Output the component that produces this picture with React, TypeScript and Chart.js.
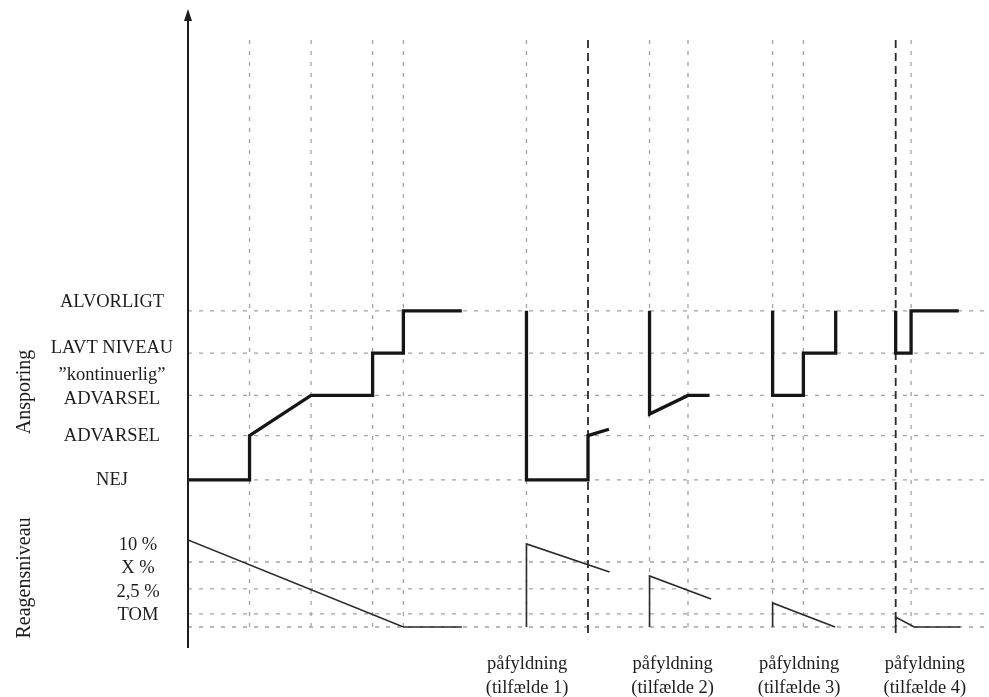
import React, { useEffect, useRef } from 'react';
import { Chart, registerables } from 'chart.js';

Chart.register(...registerables);

// ---- Data (x in time units, ansporing in level units, reagent in reagent units) ----
const ansporingGrid = [0, 1.05, 2, 3, 4];
const ansporingLabels = [['NEJ'], ['ADVARSEL'], ['”kontinuerlig”', 'ADVARSEL'], ['LAVT NIVEAU'], ['ALVORLIGT']];
const ansporingLabelPos = [0, 1.04, 2.2, 3.12, 4.21];

const reagentGrid = [0, 1.5, 4.37, 7.47];
const reagentLabels = ['TOM', '2,5 %', 'X %', '10 %'];
const reagentLabelPos = [1.38, 4.02, 6.78, 9.43];

const markerTimes = [2, 4, 6, 7, 11, 13, 15, 16.25, 19, 20, 23, 23.5];
const dashedMarkerTimes = [13, 23];

const refillLabelX = [11.02, 15.75, 19.86, 23.95];
const refillLabels = ['(tilfælde 1)', '(tilfælde 2)', '(tilfælde 3)', '(tilfælde 4)'];

const ansporingMain: [number, number][] = [[0, 0], [2, 0], [2, 1.05], [4, 2], [6, 2], [6, 3], [7, 3], [7, 4], [8.9, 4]];
const ansporingCase1: [number, number][] = [[11, 4], [11, 0], [13, 0], [13, 1.05], [13.68, 1.2]];
const ansporingCase2: [number, number][] = [[15, 4], [15, 1.56], [16.25, 2], [16.95, 2]];
const ansporingCase3: [number, number][] = [[19, 4], [19, 2], [20, 2], [20, 3], [21.05, 3], [21.05, 4]];
const ansporingCase4: [number, number][] = [[23, 4], [23, 3], [23.5, 3], [23.5, 4], [25.05, 4]];

const reagentMain: [number, number][] = [[0, 10], [7, 0], [8.9, 0]];
const reagentCase1: [number, number][] = [[11, 0], [11, 9.54], [13.7, 6.32]];
const reagentCase2: [number, number][] = [[15, 0], [15, 5.86], [17, 3.22]];
const reagentCase3: [number, number][] = [[19, 0], [19, 2.76], [21.03, 0]];
const reagentCase4: [number, number][] = [[23, 0], [23, 1.15], [23.6, 0], [25.1, 0]];

// ---- Scales / extents ----
const X_MIN = 0;
const X_MAX = 26;
const YA_MIN = -4;
const YA_MAX = 11;
const YR_MIN = -2.53;
const YR_MAX = 70.34;
const V_TOP = 10.41;
const V_BOTTOM = -3.62;

const GRID = '#a3a3a3';
const INK = '#1c1c1c';
const FONT = '"Liberation Serif", "DejaVu Serif", serif';

const decor = {
  id: 'decor',
  afterDatasetsDraw(chart: any) {
    const { ctx, chartArea, scales } = chart;
    const x = scales.x, yA = scales.yA, yR = scales.yR;
    ctx.save();
    // axis line with arrow
    ctx.strokeStyle = INK;
    ctx.lineWidth = 2;
    ctx.beginPath();
    ctx.moveTo(chartArea.left, chartArea.bottom - 1);
    ctx.lineTo(chartArea.left, chartArea.top + 4);
    ctx.stroke();
    ctx.fillStyle = INK;
    ctx.beginPath();
    ctx.moveTo(chartArea.left, chartArea.top - 6);
    ctx.lineTo(chartArea.left - 4, chartArea.top + 6);
    ctx.lineTo(chartArea.left + 4, chartArea.top + 6);
    ctx.closePath();
    ctx.fill();

    ctx.fillStyle = INK;
    ctx.textAlign = 'center';
    ctx.textBaseline = 'middle';
    ctx.font = `18.5px ${FONT}`;
    ansporingLabels.forEach((lines, i) => {
      const cy = yA.getPixelForValue(ansporingLabelPos[i]);
      const lh = 24;
      lines.forEach((t, j) => {
        ctx.fillText(t, 112, cy + (j - (lines.length - 1) / 2) * lh);
      });
    });
    reagentLabels.forEach((t, i) => {
      ctx.fillText(t, 138, yR.getPixelForValue(reagentLabelPos[i]));
    });
    refillLabels.forEach((t, i) => {
      const cx = x.getPixelForValue(refillLabelX[i]);
      ctx.fillText('påfyldning', cx, chartArea.bottom + 15);
      ctx.fillText(t, cx, chartArea.bottom + 39);
    });

    ctx.font = `20px ${FONT}`;
    const title = (t: string, cy: number) => {
      ctx.save();
      ctx.translate(25, cy);
      ctx.rotate(-Math.PI / 2);
      ctx.fillText(t, 0, 0);
      ctx.restore();
    };
    title('Ansporing', yA.getPixelForValue(2.08));
    title('Reagensniveau', yR.getPixelForValue(5.63));
    ctx.restore();
  },
};

export default function App() {
  const ref = useRef<HTMLCanvasElement>(null);
  useEffect(() => {
    const canvas = ref.current!;
    const line = (pts: [number, number][], axis: string, color: string, width: number, dash: number[], order: number) => ({
      data: pts.map(([px, py]) => ({ x: px, y: py })),
      yAxisID: axis,
      borderColor: color,
      backgroundColor: color,
      borderWidth: width,
      borderDash: dash,
      pointRadius: 0,
      pointHoverRadius: 0,
      showLine: true,
      fill: false,
      tension: 0,
      order,
    });
    const datasets: any[] = [];
    ansporingGrid.forEach((v) => datasets.push(line([[X_MIN, v], [X_MAX, v]], 'yA', GRID, 1.3, [4, 7], 3)));
    reagentGrid.forEach((v) => datasets.push(line([[X_MIN, v], [X_MAX, v]], 'yR', GRID, 1.3, [4, 7], 3)));
    markerTimes.forEach((t) => {
      const dashed = dashedMarkerTimes.includes(t);
      datasets.push(line([[t, V_TOP], [t, V_BOTTOM]], 'yA', dashed ? '#2a2a2a' : GRID, dashed ? 1.8 : 1.3, dashed ? [8, 5] : [4, 7], 2));
    });
    [ansporingMain, ansporingCase1, ansporingCase2, ansporingCase3, ansporingCase4].forEach((s) =>
      datasets.push(line(s, 'yA', '#151515', 3.3, [], 1))
    );
    [reagentMain, reagentCase1, reagentCase2, reagentCase3, reagentCase4].forEach((s) =>
      datasets.push(line(s, 'yR', '#2a2a2a', 1.6, [], 1))
    );

    const chart = new Chart(canvas, {
      type: 'scatter',
      data: { datasets },
      options: {
        animation: false,
        responsive: false,
        events: [],
        layout: { padding: { left: 188, top: 15, right: 1, bottom: 48 } },
        plugins: { legend: { display: false }, tooltip: { enabled: false } },
        scales: {
          x: { type: 'linear', min: X_MIN, max: X_MAX, display: false },
          yA: { type: 'linear', min: YA_MIN, max: YA_MAX, display: false },
          yR: { type: 'linear', min: YR_MIN, max: YR_MAX, display: false },
        },
      },
      plugins: [decor],
    });
    return () => chart.destroy();
  }, []);
  return (
    <div style={{ position: 'fixed', left: 0, top: 0, width: 989, height: 697, background: '#fff' }}>
      <canvas ref={ref} width={989} height={697} style={{ display: 'block', width: 989, height: 697 }} />
    </div>
  );
}
